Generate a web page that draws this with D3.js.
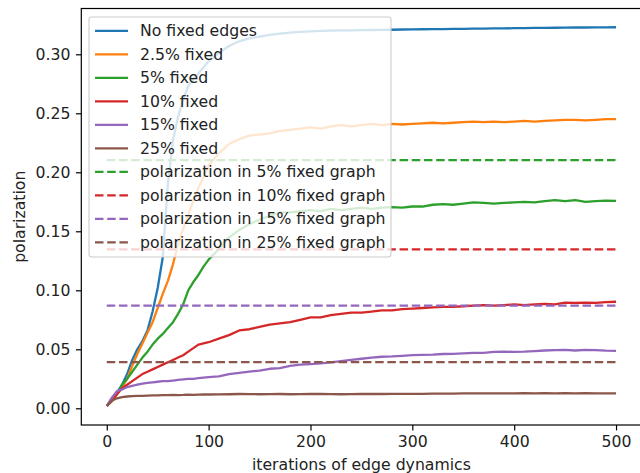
<!DOCTYPE html>
<html>
<head>
<meta charset="utf-8">
<script src="https://cdn.jsdelivr.net/npm/d3@7"></script>
<style>
  html, body { margin: 0; padding: 0; background: #fff; }
  svg { display: block; font-family: "DejaVu Sans", sans-serif; }
</style>
</head>
<body>
<svg id="chart" width="640" height="473"></svg>
<script>
// Sample iterations (every 5 up to 100, then every 10)
const iterations = [0,5,10,15,20,25,30,35,40,45,50,55,60,65,70,75,80,85,90,95,100,
  110,120,130,140,150,160,170,180,190,200,210,220,230,240,250,260,270,280,290,300,
  310,320,330,340,350,360,370,380,390,400,410,420,430,440,450,460,470,480,490,500];

const noFixed = [0.002,0.007,0.013,0.020,0.029,0.041,0.050,0.057,0.066,0.082,0.102,0.128,0.190,0.227,0.247,0.262,0.273,0.279,0.284,0.289,0.294,
  0.301,0.307,0.311,0.3135,0.315,0.3165,0.3175,0.3183,0.319,0.3195,0.3198,0.320,0.3202,0.3203,0.3205,0.3206,0.3207,0.3208,0.321,0.3211,
  0.3212,0.3213,0.3214,0.3215,0.3216,0.3217,0.3218,0.3219,0.322,0.3221,0.3222,0.3223,0.3224,0.3225,0.3226,0.3227,0.3227,0.3228,0.3228,0.3229];

const fixed2_5 = [0.002,0.006,0.012,0.018,0.025,0.036,0.046,0.055,0.064,0.073,0.085,0.097,0.108,0.122,0.139,0.152,0.164,0.176,0.187,0.196,0.206,
  0.216,0.224,0.228,0.231,0.232,0.233,0.235,0.236,0.237,0.238,0.237,0.239,0.240,0.239,0.240,0.241,0.240,0.241,0.2405,0.241,
  0.2415,0.242,0.2415,0.242,0.2425,0.243,0.2425,0.243,0.2425,0.243,0.2435,0.243,0.2435,0.244,0.2445,0.2445,0.244,0.2445,0.245,0.245];

const fixed5 = [0.002,0.006,0.012,0.020,0.025,0.031,0.037,0.043,0.048,0.054,0.059,0.063,0.068,0.073,0.080,0.088,0.100,0.107,0.113,0.120,0.126,
  0.135,0.145,0.151,0.156,0.160,0.163,0.166,0.166,0.167,0.168,0.167,0.169,0.168,0.169,0.170,0.169,0.170,0.1705,0.170,0.171,
  0.171,0.1725,0.173,0.1725,0.1735,0.1745,0.174,0.1735,0.174,0.1745,0.175,0.1745,0.1755,0.1765,0.1755,0.1765,0.175,0.1755,0.176,0.1757];

const fixed10 = [0.002,0.007,0.012,0.017,0.020,0.023,0.026,0.029,0.031,0.033,0.035,0.037,0.039,0.041,0.043,0.045,0.048,0.051,0.054,0.055,0.056,
  0.059,0.062,0.066,0.067,0.069,0.071,0.072,0.073,0.075,0.077,0.077,0.079,0.080,0.081,0.081,0.082,0.083,0.083,0.084,0.0845,
  0.085,0.0855,0.086,0.086,0.0865,0.087,0.0875,0.087,0.0875,0.088,0.0875,0.088,0.0885,0.088,0.0895,0.0893,0.0895,0.0893,0.090,0.0903];

const fixed15 = [0.002,0.009,0.0145,0.016,0.018,0.019,0.020,0.021,0.0215,0.022,0.0225,0.023,0.023,0.0235,0.024,0.0245,0.025,0.025,0.0255,0.026,0.0265,
  0.027,0.029,0.030,0.031,0.032,0.0335,0.034,0.036,0.037,0.0375,0.038,0.039,0.040,0.041,0.042,0.043,0.0437,0.044,0.0445,0.045,
  0.0453,0.0455,0.046,0.0462,0.0466,0.047,0.047,0.0478,0.048,0.0478,0.048,0.0485,0.049,0.0493,0.0495,0.049,0.0495,0.0493,0.0488,0.0486];

const fixed25 = [0.002,0.0065,0.0085,0.0095,0.010,0.0103,0.0105,0.0106,0.0108,0.011,0.011,0.0111,0.0112,0.0113,0.0112,0.0113,0.0115,0.0114,0.0116,0.0117,0.0117,
  0.0118,0.0119,0.0121,0.012,0.0119,0.012,0.0121,0.0119,0.012,0.0121,0.0122,0.012,0.0119,0.012,0.0121,0.0122,0.0121,0.0122,0.0123,0.0123,
  0.0122,0.0124,0.0125,0.0124,0.0126,0.0127,0.0126,0.0127,0.0126,0.0127,0.0128,0.0127,0.0128,0.0127,0.0128,0.0127,0.0128,0.0127,0.0127,0.0127];

const seriesNames = ["No fixed edges","2.5% fixed","5% fixed","10% fixed","15% fixed","25% fixed"];
const seriesValues = [noFixed, fixed2_5, fixed5, fixed10, fixed15, fixed25];
const seriesColors = ["#1f77b4","#ff7f0e","#2ca02c","#d62728","#9467bd","#8c564b"];

// Reference polarization levels of the fixed graphs (dashed)
const levelNames = ["polarization in 5% fixed graph","polarization in 10% fixed graph",
  "polarization in 15% fixed graph","polarization in 25% fixed graph"];
const levelValues = [0.2103, 0.1347, 0.0870, 0.0392];
const levelColors = ["#2ca02c","#d62728","#9467bd","#8c564b"];

const xTicks = [0,100,200,300,400,500];
const yTicks = [0.00,0.05,0.10,0.15,0.20,0.25,0.30];

(function draw() {
  const svg = d3.select("#chart");
  const m = { left: 81.3, right: 641.5, top: 8.5, bottom: 425 };

  const x = d3.scaleLinear().domain([-25, 525]).range([m.left, m.right]);
  const y = d3.scaleLinear().domain([-0.01415, 0.3388]).range([m.bottom, m.top]);

  const fontSize = 15.7;
  const lw = 2.3;
  const dash = "8.5,3.7";
  const tick = 5.4;

  // Series lines
  const line = d3.line().x((d, i) => x(iterations[i])).y(d => y(d));
  seriesValues.forEach((vals, k) => {
    svg.append("path")
      .attr("d", line(vals))
      .attr("fill", "none")
      .attr("stroke", seriesColors[k])
      .attr("stroke-width", lw)
      .attr("stroke-linejoin", "round")
      .attr("stroke-linecap", "butt");
  });

  // Dashed reference levels over the full iteration range
  levelValues.forEach((v, k) => {
    svg.append("line")
      .attr("x1", x(0)).attr("x2", x(500))
      .attr("y1", y(v)).attr("y2", y(v))
      .attr("stroke", levelColors[k])
      .attr("stroke-width", lw)
      .attr("stroke-dasharray", dash);
  });

  // Axes
  const xAxis = d3.axisBottom(x).tickValues(xTicks).tickFormat(d3.format("d")).tickSize(tick).tickPadding(tick);
  const yAxis = d3.axisLeft(y).tickValues(yTicks).tickFormat(d3.format(".2f")).tickSize(tick).tickPadding(tick);

  const gx = svg.append("g").attr("transform", `translate(0,${m.bottom})`).call(xAxis);
  const gy = svg.append("g").attr("transform", `translate(${m.left},0)`).call(yAxis);
  [gx, gy].forEach(g => {
    g.select(".domain").remove();
    g.selectAll("line").attr("stroke", "#000").attr("stroke-width", 1.2);
    g.selectAll("text").attr("fill", "#222").style("font-size", fontSize + "px")
      .style("font-family", "DejaVu Sans, sans-serif");
  });

  // Frame
  svg.append("rect")
    .attr("x", m.left).attr("y", m.top)
    .attr("width", m.right - m.left).attr("height", m.bottom - m.top)
    .attr("fill", "none").attr("stroke", "#000").attr("stroke-width", 1.2);

  // Axis titles
  svg.append("text")
    .attr("x", (m.left + m.right) / 2).attr("y", 470)
    .attr("text-anchor", "middle")
    .attr("fill", "#222")
    .style("font-size", fontSize + "px")
    .text("iterations of edge dynamics");

  svg.append("text")
    .attr("transform", `translate(25,${(m.top + m.bottom) / 2}) rotate(-90)`)
    .attr("text-anchor", "middle")
    .attr("fill", "#222")
    .style("font-size", fontSize + "px")
    .text("polarization");

  // Legend
  const legend = svg.append("g");
  legend.append("rect")
    .attr("x", 89).attr("y", 17).attr("width", 302).attr("height", 240)
    .attr("rx", 3).attr("ry", 3)
    .attr("fill", "rgba(255,255,255,0.8)")
    .attr("stroke", "#cccccc").attr("stroke-width", 1.1);

  const entries = seriesNames.map((n, k) => ({ name: n, color: seriesColors[k], dashed: false }))
    .concat(levelNames.map((n, k) => ({ name: n, color: levelColors[k], dashed: true })));

  entries.forEach((e, k) => {
    const cy = 30.8 + k * 23.5;
    legend.append("line")
      .attr("x1", 95).attr("x2", 128)
      .attr("y1", cy).attr("y2", cy)
      .attr("stroke", e.color).attr("stroke-width", lw)
      .attr("stroke-dasharray", e.dashed ? dash : null);
    legend.append("text")
      .attr("x", 140).attr("y", cy)
      .attr("dy", "0.35em")
      .style("font-size", fontSize + "px")
      .attr("fill", "#222")
      .text(e.name);
  });
})();
</script>
</body>
</html>
